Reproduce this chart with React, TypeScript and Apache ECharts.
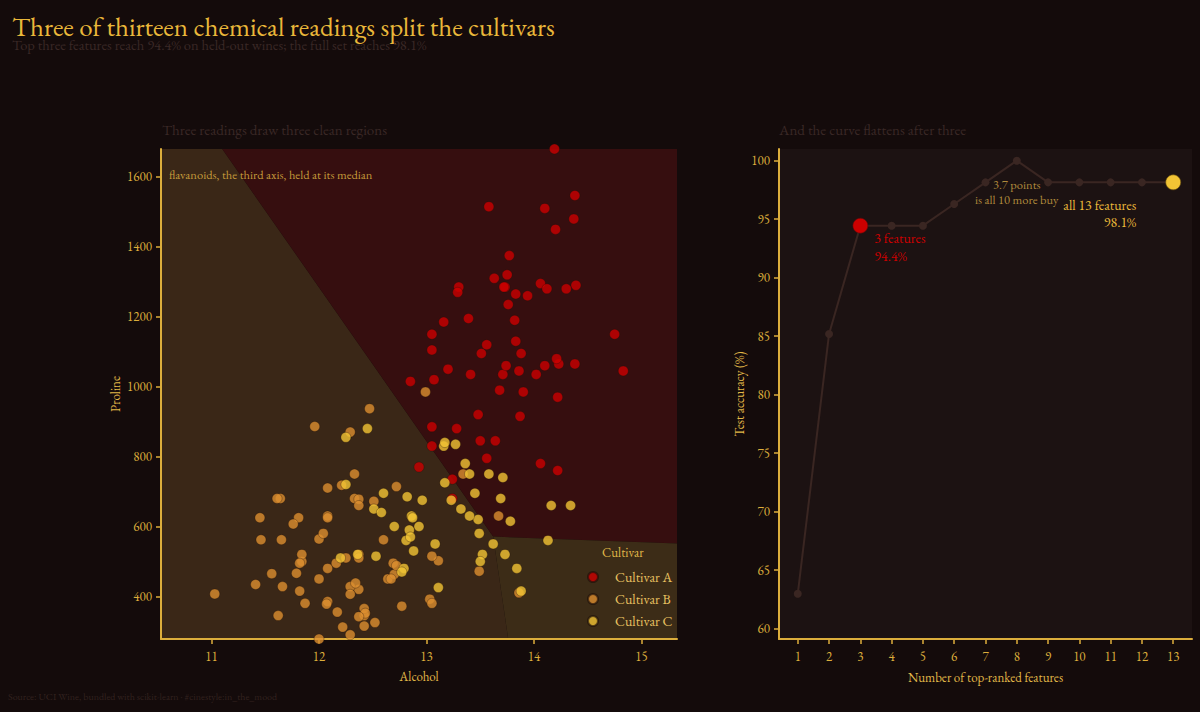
import React, { useEffect, useRef } from "react";
import * as echarts from "echarts";

// ---- Wine data: [alcohol, proline] per cultivar ----
const cultivarNames = ["Cultivar A", "Cultivar B", "Cultivar C"];

const cultivarA: [number, number][] = [
  [14.23, 1065], [13.2, 1050], [13.16, 1185], [14.37, 1480], [13.24, 735],
  [14.2, 1450], [14.39, 1290], [14.06, 1295], [14.83, 1045], [13.86, 1045],
  [14.1, 1510], [14.12, 1280], [13.75, 1320], [14.75, 1150], [14.38, 1547],
  [13.63, 1310], [14.3, 1280], [13.83, 1130], [14.19, 1680], [13.64, 845],
  [14.06, 780], [12.93, 770], [13.71, 1035], [12.85, 1015], [13.5, 845],
  [13.05, 830], [13.39, 1195], [13.3, 1285], [13.87, 915], [14.02, 1035],
  [13.73, 1285], [13.58, 1515], [13.68, 990], [13.76, 1235], [13.51, 1095],
  [13.48, 920], [13.28, 880], [13.05, 1105], [13.07, 1020], [14.22, 760],
  [13.56, 795], [13.41, 1035], [13.88, 1095], [13.24, 680], [13.05, 885],
  [14.21, 1080], [14.38, 1065], [13.9, 985], [14.1, 1060], [13.94, 1260],
  [13.05, 1150], [13.83, 1265], [13.82, 1190], [13.77, 1375], [13.74, 1060],
  [13.56, 1120], [14.22, 970], [13.29, 1270], [13.72, 1285],
];

const cultivarB: [number, number][] = [
  [12.37, 520], [12.33, 680], [12.64, 450], [13.67, 630], [12.37, 420],
  [12.17, 355], [12.37, 678], [13.11, 502], [12.37, 510], [13.34, 750],
  [12.21, 718], [12.29, 870], [13.86, 410], [13.49, 472], [12.99, 985],
  [11.96, 886], [11.66, 428], [13.03, 392], [11.84, 500], [12.33, 750],
  [12.7, 463], [12.0, 278], [12.72, 714], [12.08, 630], [13.05, 515],
  [11.84, 520], [12.67, 450], [12.16, 495], [11.65, 562], [11.64, 680],
  [12.08, 625], [12.08, 480], [12.0, 450], [12.69, 495], [12.29, 290],
  [11.62, 345], [12.47, 937], [11.81, 625], [12.29, 428], [12.37, 660],
  [12.29, 406], [12.08, 710], [12.6, 562], [12.34, 438], [11.82, 415],
  [12.51, 672], [12.42, 315], [12.25, 510], [12.72, 488], [12.22, 312],
  [11.61, 680], [11.46, 562], [12.52, 325], [11.76, 607], [11.41, 434],
  [12.08, 385], [11.03, 407], [11.82, 495], [12.42, 345], [12.77, 372],
  [12.0, 564], [11.45, 625], [11.56, 465], [12.42, 365], [13.05, 380],
  [11.87, 380], [12.07, 378], [12.43, 352], [11.79, 466], [12.37, 342],
  [12.04, 580],
];

const cultivarC: [number, number][] = [
  [12.86, 630], [12.88, 530], [12.81, 560], [12.7, 600], [12.51, 650],
  [12.6, 695], [12.25, 720], [12.53, 515], [13.49, 580], [12.84, 590],
  [12.93, 600], [13.36, 780], [13.52, 520], [13.62, 550], [12.25, 855],
  [13.16, 830], [13.88, 415], [12.87, 625], [13.32, 650], [13.08, 550],
  [13.5, 500], [12.79, 480], [13.11, 425], [13.23, 675], [12.58, 640],
  [13.17, 725], [13.84, 480], [12.45, 880], [14.34, 660], [13.48, 620],
  [12.36, 520], [13.69, 680], [12.85, 570], [12.96, 675], [13.78, 615],
  [13.73, 520], [13.45, 695], [12.82, 685], [13.58, 750], [13.4, 630],
  [12.2, 510], [12.77, 470], [14.16, 660], [13.71, 740], [13.4, 750],
  [13.27, 835], [13.17, 840], [14.13, 560],
];

// Decision regions of the classifier (flavanoids fixed at its median)
const regionA: [number, number][] = [[11.1, 1680], [15.33, 1680], [15.33, 551], [13.62, 571]];
const regionB: [number, number][] = [[10.53, 1680], [11.1, 1680], [13.62, 571], [13.76, 278], [10.53, 278]];
const regionC: [number, number][] = [[13.62, 571], [15.33, 551], [15.33, 278], [13.76, 278]];

const alcoholTicks = [11, 12, 13, 14, 15];
const prolineTicks = [400, 600, 800, 1000, 1200, 1400, 1600];

// ---- Accuracy vs. number of top-ranked features (54 held-out wines) ----
const featureCounts = [1, 2, 3, 4, 5, 6, 7, 8, 9, 10, 11, 12, 13];
const testAccuracy = [62.963, 85.185, 94.444, 94.444, 94.444, 96.296, 98.148, 100, 98.148, 98.148, 98.148, 98.148, 98.148];
const accuracyTicks = [60, 65, 70, 75, 80, 85, 90, 95, 100];

const FONT = "'EB Garamond', 'Liberation Serif', 'DejaVu Serif', serif";
const BG = "#140b0b";
const GOLD = "#dcae3c";
const RED = "#cc0000";
const ORANGE = "#dc8e30";
const YELLOW = "#f2c435";
const MUTED = "#3a2826";
const LINE = "#3a2622";

export default function App() {
  const ref = useRef<HTMLDivElement>(null);

  useEffect(() => {
    document.body.style.margin = "0";
    document.body.style.background = BG;
    const chart = echarts.init(ref.current!, null, { renderer: "svg" });

    const regions = [
      { pts: regionB, color: "#3a2717" },
      { pts: regionA, color: "#360e0f" },
      { pts: regionC, color: "#3c2c17" },
    ];

    const axisCommon = {
      axisLine: { show: true, lineStyle: { color: GOLD, width: 2 } },
      axisTick: { show: true, length: 5, lineStyle: { color: GOLD, width: 1.5 } },
      splitLine: { show: false },
      nameTextStyle: { color: "#e0b848", fontFamily: FONT, fontSize: 13 },
    };
    const labelCommon = {
      color: GOLD,
      fontFamily: FONT,
      fontSize: 13,
      formatter: (v: number) => String(v),
    };

    const pointStyle = (color: string) => ({
      color,
      borderColor: "rgba(30,16,10,0.8)",
      borderWidth: 0.5,
    });

    const titleText = (text: string, left: number, top: number, color: string, fontSize: number) => ({
      text,
      left,
      top,
      padding: 0,
      textStyle: { color, fontFamily: FONT, fontSize, fontWeight: "normal" },
    });

    const accData = testAccuracy.map((v, i) => {
      const n = featureCounts[i];
      if (n === 3) {
        return {
          value: [n, v],
          symbolSize: 15,
          itemStyle: { color: RED, borderColor: "#5a0a0a", borderWidth: 0.6 },
          label: {
            show: true,
            position: "inside",
            align: "left",
            verticalAlign: "top",
            offset: [14, 3],
            formatter: `${n} features\n${v.toFixed(1)}%`,
            color: RED,
            fontFamily: FONT,
            fontSize: 14,
            lineHeight: 18,
          },
        };
      }
      if (n === 13) {
        return {
          value: [n, v],
          symbolSize: 15,
          itemStyle: { color: YELLOW, borderColor: "#6a5010", borderWidth: 0.6 },
          label: {
            show: true,
            position: "inside",
            align: "right",
            verticalAlign: "top",
            offset: [-37, 14],
            formatter: `all ${n} features\n${v.toFixed(1)}%`,
            color: "#eab83a",
            fontFamily: FONT,
            fontSize: 14,
            lineHeight: 17,
          },
        };
      }
      if (n === 8) {
        const gain = (testAccuracy[testAccuracy.length - 1] - testAccuracy[2]).toFixed(1);
        return {
          value: [n, v],
          label: {
            show: true,
            position: "inside",
            align: "center",
            verticalAlign: "top",
            offset: [0, 16],
            formatter: `${gain} points\nis all 10 more buy`,
            color: "#b08a3c",
            fontFamily: FONT,
            fontSize: 12.5,
            lineHeight: 15,
          },
        };
      }
      return { value: [n, v] };
    });

    chart.setOption({
      animation: false,
      backgroundColor: BG,
      textStyle: { fontFamily: FONT },
      title: [
        titleText("Three of thirteen chemical readings split the cultivars", 12, 13, "#eab83a", 27),
        titleText("Top three features reach 94.4% on held-out wines; the full set reaches 98.1%", 12, 37, MUTED, 14.5),
        titleText("Three readings draw three clean regions", 162, 122, MUTED, 15),
        titleText("And the curve flattens after three", 779, 122, MUTED, 15),
        titleText("Source: UCI Wine, bundled with scikit-learn · #cinestyle:in_the_mood", 8, 691, "#33221f", 10),
        titleText("Cultivar", 602, 546, "#e0b848", 13),
        titleText("flavanoids, the third axis, held at its median", 169, 168, "#c49a3a", 12.5),
      ],
      legend: {
        orient: "vertical",
        left: 587,
        top: 569,
        padding: 0,
        itemWidth: 10,
        itemHeight: 10,
        itemGap: 6,
        icon: "circle",
        data: cultivarNames,
        textStyle: {
          color: "#e8c060",
          fontFamily: FONT,
          fontSize: 14,
          lineHeight: 16,
          padding: [0, 0, 0, 12],
        },
      },
      grid: [
        { left: 161, top: 149, width: 516, height: 490, containLabel: false },
        {
          left: 779, top: 149, width: 413, height: 490, containLabel: false,
          show: true, backgroundColor: "#1c1212", borderWidth: 0,
        },
      ],
      xAxis: [
        {
          gridIndex: 0, type: "value", min: 10.53, max: 15.33,
          name: "Alcohol", nameLocation: "middle", nameGap: 31,
          ...axisCommon,
          axisTick: { ...axisCommon.axisTick, customValues: alcoholTicks },
          axisLabel: { ...labelCommon, margin: 11, customValues: alcoholTicks },
        },
        {
          gridIndex: 1, type: "value", min: 0.4, max: 13.6,
          name: "Number of top-ranked features", nameLocation: "middle", nameGap: 32,
          ...axisCommon,
          axisTick: { ...axisCommon.axisTick, customValues: featureCounts },
          axisLabel: { ...labelCommon, margin: 11, customValues: featureCounts },
        },
      ],
      yAxis: [
        {
          gridIndex: 0, type: "value", min: 278, max: 1680,
          name: "Proline", nameLocation: "middle", nameGap: 39, nameRotate: 90,
          ...axisCommon,
          axisTick: { ...axisCommon.axisTick, customValues: prolineTicks },
          axisLabel: { ...labelCommon, margin: 9, customValues: prolineTicks },
        },
        {
          gridIndex: 1, type: "value", min: 59.1, max: 101,
          name: "Test accuracy (%)", nameLocation: "middle", nameGap: 33, nameRotate: 90,
          ...axisCommon,
          axisTick: { ...axisCommon.axisTick, customValues: accuracyTicks },
          axisLabel: { ...labelCommon, margin: 9, customValues: accuracyTicks },
        },
      ],
      series: [
        {
          type: "custom",
          xAxisIndex: 0,
          yAxisIndex: 0,
          silent: true,
          clip: true,
          z: 0,
          data: regions.map((r) => r.pts[0]),
          renderItem: (params: any, api: any) => {
            const r = regions[params.dataIndex];
            return {
              type: "polygon",
              shape: { points: r.pts.map((p) => api.coord(p)) },
              style: { fill: r.color },
            };
          },
        },
        {
          name: cultivarNames[0], type: "scatter", xAxisIndex: 0, yAxisIndex: 0,
          symbolSize: 10, data: cultivarA, itemStyle: pointStyle(RED), z: 3,
        },
        {
          name: cultivarNames[1], type: "scatter", xAxisIndex: 0, yAxisIndex: 0,
          symbolSize: 10, data: cultivarB, itemStyle: pointStyle(ORANGE), z: 3,
        },
        {
          name: cultivarNames[2], type: "scatter", xAxisIndex: 0, yAxisIndex: 0,
          symbolSize: 10, data: cultivarC, itemStyle: pointStyle(YELLOW), z: 3,
        },
        {
          type: "line",
          xAxisIndex: 1,
          yAxisIndex: 1,
          data: accData,
          symbol: "circle",
          symbolSize: 8,
          showAllSymbol: true,
          lineStyle: { color: LINE, width: 2 },
          itemStyle: { color: LINE, borderWidth: 0 },
          z: 3,
        },
      ],
    });

    return () => chart.dispose();
  }, []);

  return <div ref={ref} style={{ width: 1200, height: 712 }} />;
}
